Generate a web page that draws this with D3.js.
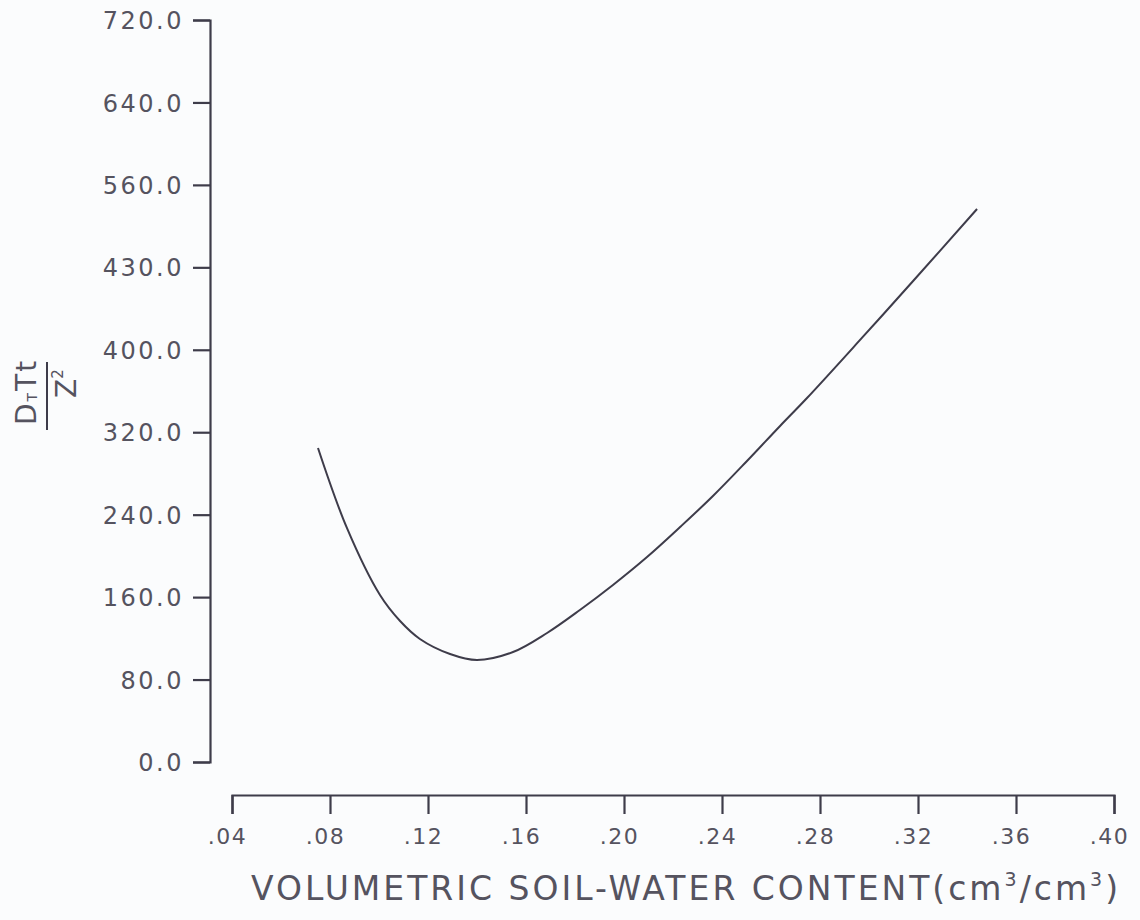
<!DOCTYPE html>
<html>
<head>
<meta charset="utf-8">
<script src="https://cdn.jsdelivr.net/npm/d3@7"></script>
<style>
  body { margin: 0; background: #fbfcfd; }
  svg { display: block; }
  .tick text, .lbl { font-family: "DejaVu Sans", sans-serif; fill: #55535f; }
</style>
</head>
<body>
<div id="chart"></div>
<script>
// water content (cm3/cm3) vs DT*T*t / Z^2
const waterContent = [0.0751, 0.0869, 0.1004, 0.1086, 0.1167, 0.1290, 0.1400, 0.1547, 0.1686, 0.1820, 0.1955, 0.2094, 0.2229, 0.2363, 0.2502, 0.2637, 0.2747, 0.2971, 0.3180, 0.3441];
const dimTime = [304.7, 227.1, 162.0, 136.8, 119.4, 104.8, 99.0, 106.7, 125.2, 147.5, 171.8, 198.9, 228.0, 258.1, 292.1, 326.1, 353.2, 411.5, 466.7, 536.6];

const yTicks = [0, 80, 160, 240, 320, 400, 480, 560, 640, 720];
const yTickLabels = ["0.0", "80.0", "160.0", "240.0", "320.0", "400.0", "430.0", "560.0", "640.0", "720.0"];
const xTicks = [0.04, 0.08, 0.12, 0.16, 0.20, 0.24, 0.28, 0.32, 0.36, 0.40];
const xTickLabels = [".04", ".08", ".12", ".16", ".20", ".24", ".28", ".32", ".36", ".40"];

const width = 1140, height = 920;
const ink = "#3e3c4a";

const svg = d3.select("#chart")
    .append("svg")
    .attr("width", width)
    .attr("height", height);

const x = d3.scaleLinear().domain([0.04, 0.40]).range([232, 1114]);
const y = d3.scaleLinear().domain([0, 720]).range([762, 20]);

// y axis sits left of where the x axis starts
const yAxis = d3.axisLeft(y)
    .tickValues(yTicks)
    .tickFormat((d, i) => yTickLabels[i])
    .tickSize(17)
    .tickPadding(9);

const gy = svg.append("g")
    .attr("transform", "translate(210,0)")
    .call(yAxis);

gy.selectAll("text")
    .attr("font-size", 24)
    .attr("letter-spacing", 2.5)
    .attr("dy", "0.36em");

const xAxis = d3.axisBottom(x)
    .tickValues(xTicks)
    .tickFormat((d, i) => xTickLabels[i])
    .tickSize(19)
    .tickPadding(14);

const gx = svg.append("g")
    .attr("transform", "translate(0,795)")
    .call(xAxis);

gx.selectAll("text")
    .attr("font-size", 22)
    .attr("letter-spacing", 1.5)
    .attr("dx", -5);

svg.selectAll(".domain, .tick line")
    .attr("stroke", ink)
    .attr("stroke-width", 2.2);

// curve
const line = d3.line()
    .x((d, i) => x(waterContent[i]))
    .y(d => y(d))
    .curve(d3.curveCatmullRom.alpha(0.5));

svg.append("path")
    .datum(dimTime)
    .attr("d", line)
    .attr("fill", "none")
    .attr("stroke", ink)
    .attr("stroke-width", 2);

// x title
const title = svg.append("text")
    .attr("class", "lbl")
    .attr("x", 686)
    .attr("y", 900)
    .attr("text-anchor", "middle")
    .attr("font-size", 33)
    .attr("letter-spacing", 3);
title.append("tspan").text("VOLUMETRIC SOIL-WATER CONTENT(cm");
title.append("tspan").attr("font-size", 19).attr("dy", -14).text("3");
title.append("tspan").attr("dy", 14).text("/cm");
title.append("tspan").attr("font-size", 19).attr("dy", -14).text("3");
title.append("tspan").attr("dy", 14).text(")");

// y title as a fraction, rotated
const frac = svg.append("g")
    .attr("transform", "translate(47,396) rotate(-90)");

frac.append("line")
    .attr("x1", -34).attr("x2", 34)
    .attr("y1", 0).attr("y2", 0)
    .attr("stroke", ink)
    .attr("stroke-width", 2);

const num = frac.append("text")
    .attr("class", "lbl")
    .attr("x", -29)
    .attr("y", -11)
    .attr("font-size", 28)
    .attr("letter-spacing", 2);
num.append("tspan").text("D");
num.append("tspan").attr("font-size", 14).attr("dy", 1).text("T");
num.append("tspan").attr("dy", -1).text("Tt");

const den = frac.append("text")
    .attr("class", "lbl")
    .attr("x", -2)
    .attr("y", 29)
    .attr("font-size", 28);
den.append("tspan").text("Z");
den.append("tspan").attr("font-size", 15).attr("dy", -13).text("2");
</script>
</body>
</html>
